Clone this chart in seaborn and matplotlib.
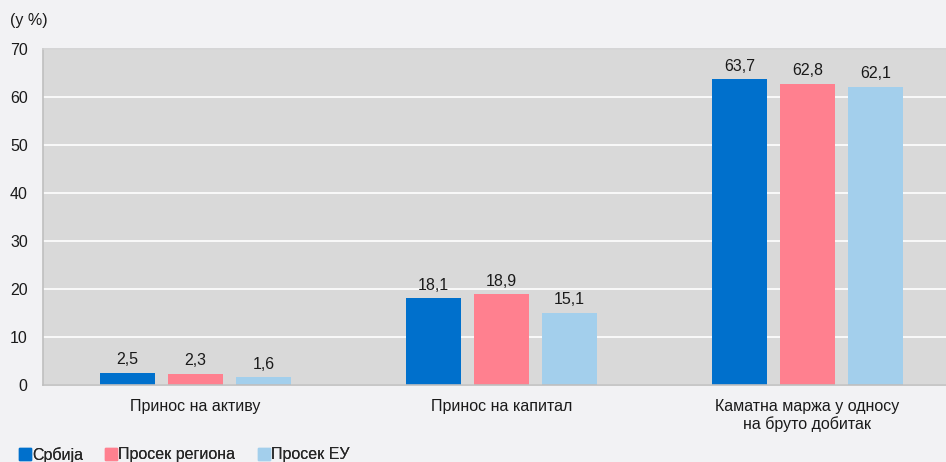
import matplotlib
matplotlib.use("Agg")
import matplotlib.pyplot as plt
from matplotlib.lines import Line2D
import seaborn as sns
import pandas as pd

categories = ["Принос на активу", "Принос на капитал", "Каматна маржа у односу\nна бруто добитак"]
series_names = ["Србија", "Просек региона", "Просек ЕУ"]
srbija = [2.5, 18.1, 63.7]
region = [2.3, 18.9, 62.8]
eu = [1.6, 15.1, 62.1]
colors = ["#0070cc", "#ff808f", "#a3cfec"]

rows = []
for name, vals in zip(series_names, [srbija, region, eu]):
    for c, v in zip(categories, vals):
        rows.append({"cat": c, "series": name, "value": v})
df = pd.DataFrame(rows)

sns.set_theme(style="white")
plt.rcParams["font.family"] = ["Liberation Sans", "DejaVu Sans"]

FS = 11.5
fig = plt.figure(figsize=(9.46, 4.62), dpi=100, facecolor="#f2f2f4")
ax = fig.add_axes([43/946, 77/462, 1 - 43/946, (385-49)/462])
ax.set_facecolor("#d9d9d9")

sns.barplot(data=df, x="cat", y="value", hue="series", palette=colors,
            width=0.667, gap=0.19, ax=ax, legend=False, saturation=1,
            order=categories, hue_order=series_names, linewidth=0, edgecolor="none")

for cont in ax.containers:
    labels = [f"{v:.1f}".replace(".", ",") for v in cont.datavalues]
    ax.bar_label(cont, labels=labels, padding=4, fontsize=FS, color="#1a1a1a")

ax.set_ylim(0, 70)
ax.set_yticks(range(0, 71, 10))
ax.set_xlim(-0.498, 2.453)
ax.yaxis.grid(True, color="white", linewidth=1.2)
ax.set_axisbelow(True)
ax.set_xlabel("")
ax.set_ylabel("")
ax.tick_params(axis="both", length=0, labelsize=FS, colors="#1a1a1a")
ax.tick_params(axis="x", pad=10)
ax.tick_params(axis="y", pad=11)
for s in ["left", "bottom", "top"]:
    ax.spines[s].set_color("#bfbfbf")
    ax.spines[s].set_linewidth(1.2)
ax.spines["right"].set_visible(False)
ax.spines["top"].set_color("#d0d0d0")

fig.text(10/946, 1 - 20/462, "(у %)", fontsize=FS, va="center", ha="left", color="#1a1a1a")

legend_x = [18/946, 104/946, 257/946]
for name, c, lx in zip(series_names, colors, legend_x):
    h = Line2D([0], [0], marker="s", linestyle="none", markersize=8,
               markerfacecolor=c, markeredgecolor=c)
    leg = fig.legend([h], [name], loc="center left", bbox_to_anchor=(lx, 1 - 455/462),
                     frameon=False, fontsize=FS, handletextpad=0.0,
                     handlelength=0.9, borderaxespad=0, borderpad=0)
    fig.add_artist(leg)

fig.savefig("out.png", dpi=100, facecolor=fig.get_facecolor())
